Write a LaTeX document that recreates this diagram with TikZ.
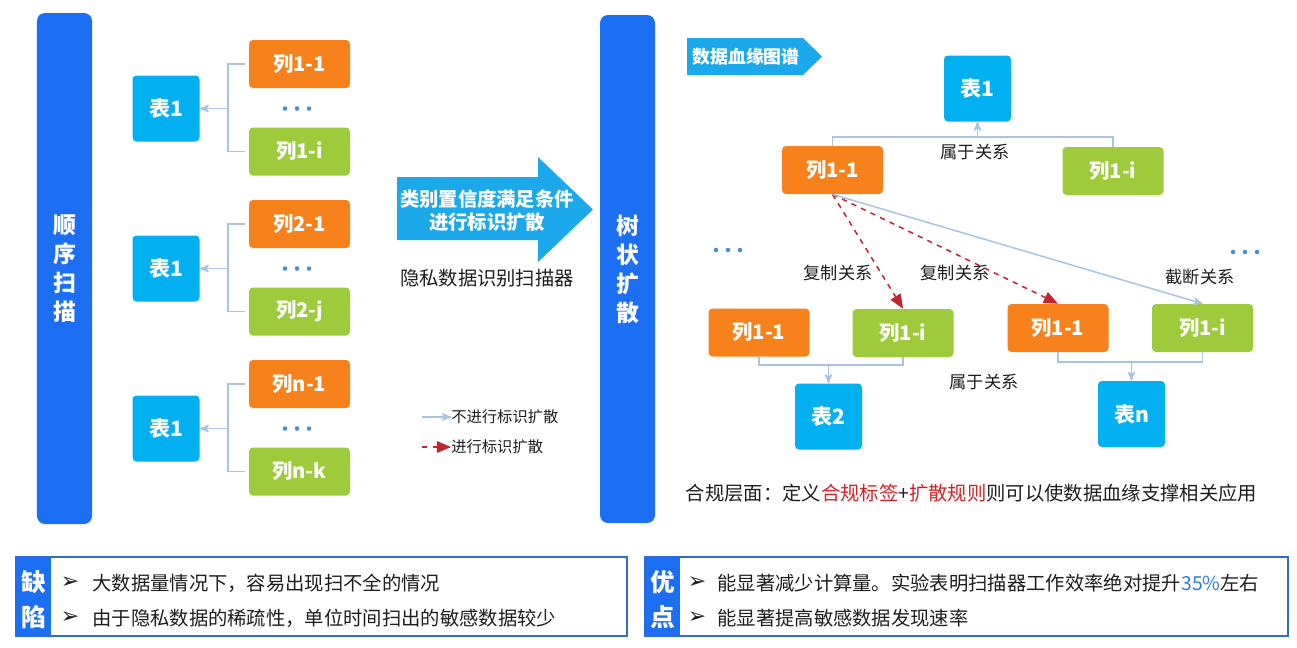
\documentclass[tikz,border=0pt]{standalone}
\usepackage{fontspec}
\setmainfont{Noto Sans CJK SC}
\newfontfamily\symfont{DejaVu Sans}
\usepackage{xcolor}
\usepackage{tikz}
\usetikzlibrary{arrows,positioning,calc}
\definecolor{scanblue}{HTML}{1C6EF2}
\definecolor{tabcyan}{HTML}{00B0F0}
\definecolor{colorange}{HTML}{F7821B}
\definecolor{colgreen}{HTML}{9DCB3B}
\definecolor{arrowcyan}{HTML}{1BA9EC}
\definecolor{linkgray}{HTML}{A9C3E3}
\definecolor{spreadred}{HTML}{C0272D}
\definecolor{tagred}{HTML}{D62027}
\definecolor{textdark}{HTML}{1E1E1E}
\definecolor{boxblue}{HTML}{2E6BD6}
\definecolor{dotblue}{HTML}{3D8FD8}
\definecolor{pctblue}{HTML}{2F7BD9}

\begin{document}
\begin{tikzpicture}[x=0.2mm,y=-0.2mm,
  bar/.style={fill=scanblue, rounded corners=1.6mm, text=white, font=\fontsize{13}{16.5}\selectfont\bfseries, align=center, inner sep=0pt, minimum width=11mm},
  tab/.style={fill=tabcyan, rounded corners=0.8mm, text=white, font=\fontsize{12}{14}\selectfont\bfseries, minimum width=13.4mm, minimum height=13.2mm, inner sep=0pt},
  colA/.style={fill=colorange, rounded corners=0.8mm, text=white, font=\fontsize{11.5}{14}\selectfont\bfseries, minimum width=20.2mm, minimum height=9.6mm, inner sep=0pt},
  colB/.style={colA, fill=colgreen},
  link/.style={linkgray, line width=0.3mm},
  spread/.style={spreadred, dashed, line width=0.3mm, >=triangle 45},
  rel/.style={text=textdark, font=\fontsize{9.8}{12}\selectfont},
  note/.style={text=textdark, font=\fontsize{11}{13}\selectfont},
  tick/.style={text=textdark, font=\symfont\fontsize{12.5}{14}\selectfont, inner sep=0pt},
  >=stealth']
\fill[white] (0,0) rectangle (1297,647);
\useasboundingbox (0,0) rectangle (1297,647);

\node[bar, minimum height=102.2mm] (scan) at (64.5,268.5) {顺\\序\\扫\\描};
\foreach \grp/\ca/\cb [evaluate=\grp as \yy using 108.5+160*(\grp-1)] in {1/1-1/1-i,2/2-1/2-j,3/n-1/n-k} {
  \node[tab] (tab\grp) at (166,\yy) {表1};
  \node[colA] (ca\grp) at (299.5,\yy-44.5) {列\ca};
  \node[colB] (cb\grp) at (299.5,\yy+43) {列\cb};
  \coordinate (jn\grp) at (228,\yy);
  \draw[link] ([xshift=-0.8mm]ca\grp.west) -| (jn\grp) |- ([xshift=-0.8mm]cb\grp.west);
  \draw[link,->] (jn\grp) -- (tab\grp.east);
  \foreach \d in {-12,0,12} \fill[dotblue] (297+\d,\yy) circle (0.45mm);
}

\fill[arrowcyan] (397,177) -- (538,177) -- (538,157) -- (593,209.5) -- (538,262) -- (538,240) -- (397,240) -- cycle;
\node[text=white, font=\fontsize{11}{13}\selectfont\bfseries, align=center] (cond) at (487,210.5) {类别置信度满足条件\\进行标识扩散};
\node[note] (scanner) at (487,278) {隐私数据识别扫描器};
\node[anchor=west, text=textdark, font=\fontsize{8.7}{10}\selectfont, inner sep=0pt] (lgno) at (451,417) {不进行标识扩散};
\node[anchor=west, text=textdark, font=\fontsize{8.7}{10}\selectfont, inner sep=0pt] (lgyes) at (451,447) {进行标识扩散};
\coordinate (lgs1) at (422,417);
\coordinate (lgs2) at (422,447);
\draw[link,->] (lgs1) -- (lgno.west);
\draw[spread,->] (lgs2) -- (lgyes.west);

\node[bar, minimum height=101.6mm] (tree) at (627.5,269) {树\\状\\扩\\散};

\fill[arrowcyan] (687,38) -- (803,38) -- (822,56.5) -- (803,75) -- (687,75) -- cycle;
\node[text=white, font=\fontsize{10.2}{12}\selectfont\bfseries] (lineage) at (746,56.5) {数据血缘图谱};
\node[tab] (top) at (977.5,88.5) {表1};
\node[colA] (ra) at (832.5,170) {列1-1};
\node[colB] (rb) at (1113,171) {列1-i};
\coordinate (rj) at (977.5,137);
\draw[link] (ra.north) |- (rj) -| (rb.north);
\draw[link,->] (rj) -- (top.south);
\node[rel] (own1) at (975,152) {属于关系};

\node[colA] (la) at (759,332.5) {列1-1};
\node[colB] (lb) at (903,333) {列1-i};
\node[colA] (lc) at (1058,328) {列1-1};
\node[colB] (ld) at (1202.5,328) {列1-i};
\node[tab] (t2) at (828.5,416.5) {表2};
\node[tab] (tn) at (1131.5,414) {表n};
\coordinate (lj) at (828.5,365);
\coordinate (rj2) at (1131.5,362);
\draw[link] (la.south) |- (lj) -| (lb.south);
\draw[link,->] (lj) -- (t2.north);
\draw[link] (lc.south) |- (rj2) -| (ld.south);
\draw[link,->] (rj2) -- (tn.north);
\node[rel] (own2) at (984,382) {属于关系};

\draw[spread,->] (ra.south) -- (lb.north);
\draw[spread,->] (ra.south) -- (lc.north);
\draw[link,->] (ra.south) -- (ld.north);
\node[rel] (copy1) at (838,273) {复制关系};
\node[rel] (copy2) at (955,273) {复制关系};
\node[rel] (cut) at (1200,277) {截断关系};
\foreach \d in {-12,0,12} {
  \fill[dotblue] (728+\d,250) circle (0.45mm);
  \fill[dotblue] (1245+\d,252) circle (0.45mm);
}
\node[note] (rule) at (971.5,493) {合规层面：定义\textcolor{tagred}{合规标签}+\textcolor{tagred}{扩散规则}则可以使数据血缘支撑相关应用};

\draw[boxblue, line width=0.35mm, fill=white] (16,557) rectangle (627,636);
\fill[scanblue] (16,557) rectangle (51,636);
\node[text=white, font=\fontsize{14}{20}\selectfont\bfseries, align=center] (cons) at (33.5,600) {缺\\陷};
\node[tick] (cb1) at (70,583) {➢};
\node[tick] (cb2) at (70,618) {➢};
\node[note, anchor=west, inner sep=0pt] (con1) at (92,583) {大数据量情况下，容易出现扫不全的情况};
\node[note, anchor=west, inner sep=0pt] (con2) at (92,618) {由于隐私数据的稀疏性，单位时间扫出的敏感数据较少};

\draw[boxblue, line width=0.35mm, fill=white] (645,557) rectangle (1288,636);
\fill[scanblue] (645,557) rectangle (680,636);
\node[text=white, font=\fontsize{14}{20}\selectfont\bfseries, align=center] (pros) at (662.5,600) {优\\点};
\node[tick] (pb1) at (697,583) {➢};
\node[tick] (pb2) at (697,618) {➢};
\node[note, anchor=west, inner sep=0pt] (pro1) at (717,583) {能显著减少计算量。实验表明扫描器工作效率绝对提升\textcolor{pctblue}{35\%}左右};
\node[note, anchor=west, inner sep=0pt] (pro2) at (717,618) {能显著提高敏感数据发现速率};
\end{tikzpicture}
\end{document}
